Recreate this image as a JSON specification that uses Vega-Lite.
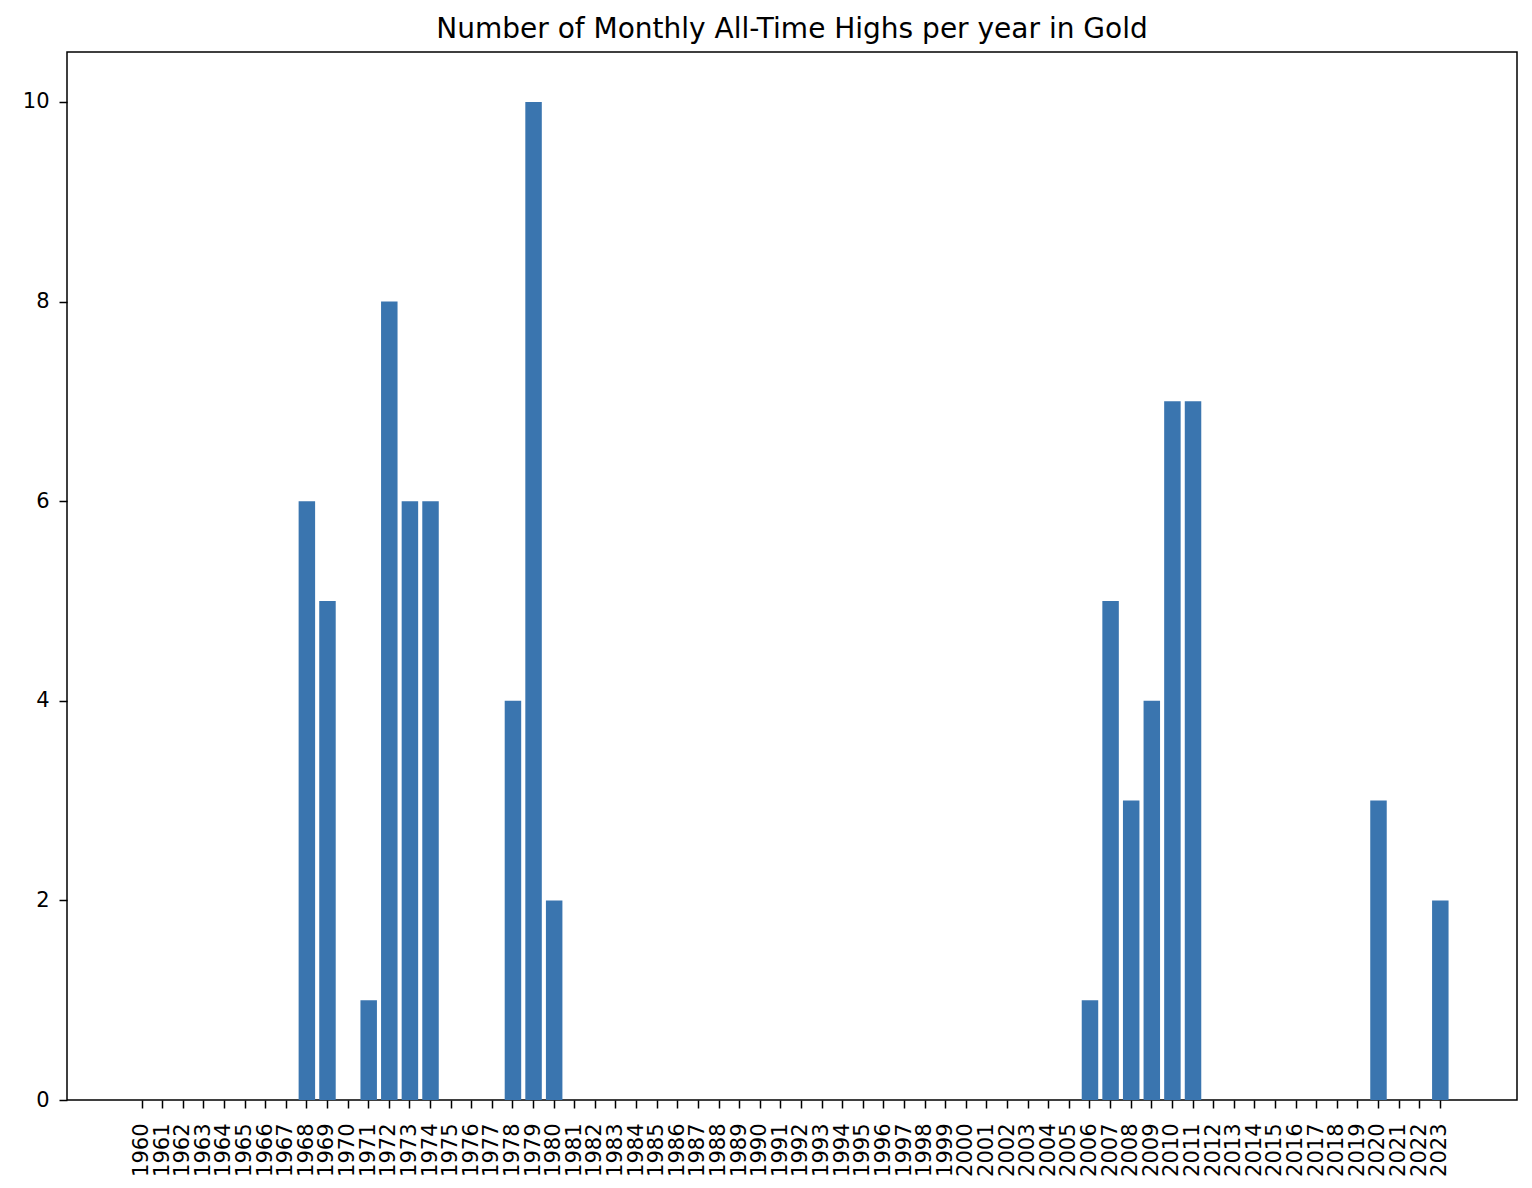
{
  "$schema": "https://vega.github.io/schema/vega-lite/v6.json",
  "width": 1450,
  "height": 1048,
  "autosize": {"type": "none"},
  "padding": {"left": 67, "top": 52, "right": 15, "bottom": 88},
  "background": "white",
  "title": {
    "text": "Number of Monthly All-Time Highs per year in Gold",
    "font": "DejaVu Sans",
    "fontSize": 28,
    "fontWeight": "normal",
    "color": "black",
    "anchor": "middle",
    "frame": "group",
    "baseline": "bottom",
    "offset": -20
  },
  "config": {
    "view": {"stroke": "black", "strokeWidth": 1.5},
    "axis": {
      "labelFont": "DejaVu Sans",
      "labelFontSize": 21,
      "labelColor": "black",
      "domainColor": "black",
      "domainWidth": 1.5,
      "tickColor": "black",
      "tickWidth": 1.5,
      "tickSize": 8,
      "grid": false,
      "title": null
    }
  },
  "data": {
    "values": [
      {"year": "1960", "count": 0}, {"year": "1961", "count": 0}, {"year": "1962", "count": 0}, {"year": "1963", "count": 0},
      {"year": "1964", "count": 0}, {"year": "1965", "count": 0}, {"year": "1966", "count": 0}, {"year": "1967", "count": 0},
      {"year": "1968", "count": 6}, {"year": "1969", "count": 5}, {"year": "1970", "count": 0}, {"year": "1971", "count": 1},
      {"year": "1972", "count": 8}, {"year": "1973", "count": 6}, {"year": "1974", "count": 6}, {"year": "1975", "count": 0},
      {"year": "1976", "count": 0}, {"year": "1977", "count": 0}, {"year": "1978", "count": 4}, {"year": "1979", "count": 10},
      {"year": "1980", "count": 2}, {"year": "1981", "count": 0}, {"year": "1982", "count": 0}, {"year": "1983", "count": 0},
      {"year": "1984", "count": 0}, {"year": "1985", "count": 0}, {"year": "1986", "count": 0}, {"year": "1987", "count": 0},
      {"year": "1988", "count": 0}, {"year": "1989", "count": 0}, {"year": "1990", "count": 0}, {"year": "1991", "count": 0},
      {"year": "1992", "count": 0}, {"year": "1993", "count": 0}, {"year": "1994", "count": 0}, {"year": "1995", "count": 0},
      {"year": "1996", "count": 0}, {"year": "1997", "count": 0}, {"year": "1998", "count": 0}, {"year": "1999", "count": 0},
      {"year": "2000", "count": 0}, {"year": "2001", "count": 0}, {"year": "2002", "count": 0}, {"year": "2003", "count": 0},
      {"year": "2004", "count": 0}, {"year": "2005", "count": 0}, {"year": "2006", "count": 1}, {"year": "2007", "count": 5},
      {"year": "2008", "count": 3}, {"year": "2009", "count": 4}, {"year": "2010", "count": 7}, {"year": "2011", "count": 7},
      {"year": "2012", "count": 0}, {"year": "2013", "count": 0}, {"year": "2014", "count": 0}, {"year": "2015", "count": 0},
      {"year": "2016", "count": 0}, {"year": "2017", "count": 0}, {"year": "2018", "count": 0}, {"year": "2019", "count": 0},
      {"year": "2020", "count": 3}, {"year": "2021", "count": 0}, {"year": "2022", "count": 0}, {"year": "2023", "count": 2}
    ]
  },
  "mark": {"type": "bar", "color": "#3a75af"},
  "encoding": {
    "x": {
      "field": "year",
      "type": "ordinal",
      "sort": null,
      "scale": {"paddingInner": 0.2, "paddingOuter": 0, "range": [66.76, 1381.56]},
      "axis": {"labelAngle": -90, "labelPadding": 15, "domain": false}
    },
    "y": {
      "field": "count",
      "type": "quantitative",
      "scale": {"domain": [0, 10.5], "nice": false, "zero": true},
      "axis": {"values": [0, 2, 4, 6, 8, 10], "labelPadding": 10, "domain": false}
    }
  }
}
